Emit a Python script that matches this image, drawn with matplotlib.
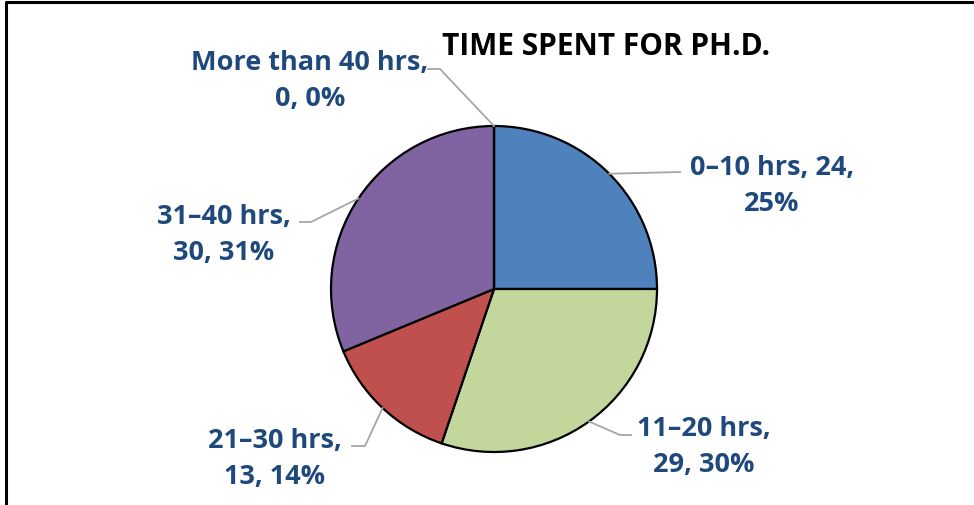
import matplotlib
matplotlib.use("Agg")
import matplotlib.pyplot as plt
import numpy as np

categories = ["0–10 hrs", "11–20 hrs", "21–30 hrs", "31–40 hrs", "More than 40 hrs"]
values = [24, 29, 13, 30, 0]
percents = [25, 30, 14, 31, 0]
title = "TIME SPENT FOR PH.D."

colors = ["#4F81BD", "#C3D69B", "#C0504D", "#8064A2", "#F79646"]
label_color = "#1F497D"
W, H = 974, 506

plt.rcParams['font.family'] = ['Open Sans', 'DejaVu Sans']
fig = plt.figure(figsize=(W / 100, H / 100), dpi=100)
ax = fig.add_axes([0, 0, 1, 1])
ax.set_xlim(0, W)
ax.set_ylim(0, H)
ax.set_aspect('equal')
ax.axis('off')

def py(y):
    return H - y

cx, cy, r = 494, 290, 163
wedges, _ = ax.pie(values, colors=colors, startangle=90, counterclock=False,
                   center=(cx, py(cy)), radius=r,
                   wedgeprops=dict(edgecolor='black', linewidth=1.6))
ax.set_xlim(0, W)
ax.set_ylim(0, H)

label_texts = [
    f"{categories[0]}, {values[0]},\n{percents[0]}%",
    f"{categories[1]},\n{values[1]}, {percents[1]}%",
    f"{categories[2]},\n{values[2]}, {percents[2]}%",
    f"{categories[3]},\n{values[3]}, {percents[3]}%",
    f"{categories[4]},\n{values[4]}, {percents[4]}%",
]
# text centres (pixel coords) and leader elbow/end points
text_pos = [(772, 186), (704, 447), (275, 459), (224, 235), (310, 81)]
leader_pts = [
    [(680, 173)],
    [(620, 436), (631, 436)],
    [(365, 447), (352, 447)],
    [(311, 223), (300, 223)],
    [(440, 70), (428, 70)],
]

for w, txt, (tx, ty), pts in zip(wedges, label_texts, text_pos, leader_pts):
    ang = np.deg2rad((w.theta1 + w.theta2) / 2)
    sx = cx + r * np.cos(ang)
    sy = py(cy) + r * np.sin(ang)
    xs = [sx] + [p[0] for p in pts]
    ys = [sy] + [py(p[1]) for p in pts]
    ax.plot(xs, ys, color="#A6A6A6", lw=1.3, zorder=1)
    ax.text(tx, py(ty), txt, ha='center', va='center', color=label_color,
            fontsize=19.5, fontweight='bold', linespacing=1.5)

ax.text(606, py(47), title, ha='center', va='center', color='black',
        fontsize=21.5, fontweight='bold')

# outer frame (left and top edges visible)
ax.plot([6, 6, W + 5], [-5, py(3), py(3)], color='black', lw=2.2, clip_on=False)

fig.savefig("out.png", dpi=100)
